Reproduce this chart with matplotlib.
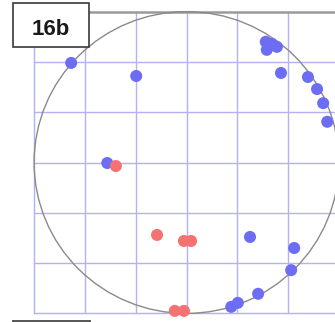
import matplotlib
matplotlib.use("Agg")
import matplotlib.pyplot as plt
from matplotlib.patches import Circle, Rectangle

# Panel label
panel_label = "16b"

# Blue group (x, y) in grid units
blue_x = [-2.27, -0.99, 1.56, 1.68, 1.58, 1.78, 1.86, 2.39, 2.57, 2.69, 2.77,
          -1.56, 1.25, 2.12, 2.06, 1.41, 1.01, 0.88]
blue_y = [1.98, 1.72, 2.40, 2.36, 2.24, 2.30, 1.78, 1.70, 1.46, 1.18, 0.81,
          -0.01, -1.48, -1.70, -2.14, -2.61, -2.79, -2.87]

# Red group (x, y) in grid units
red_x = [-1.39, -0.58, -0.05, 0.09, -0.23, -0.05]
red_y = [-0.07, -1.44, -1.56, -1.56, -2.95, -2.95]

grid_ticks = [-3, -2, -1, 0, 1, 2, 3]
radius = 3.0

fig = plt.figure(figsize=(3.35, 3.22), dpi=100)
ax = fig.add_axes([0, 0, 1, 1])
ax.set_xlim(-3.671, 2.923)
ax.set_ylim(-3.171, 3.231)
ax.axis("off")

grid_color = "#b2b2f4"
# vertical grid lines
for gx in grid_ticks:
    ax.plot([gx, gx], [-3, 3], color=grid_color, lw=1.0, zorder=1)
# horizontal grid lines
for gy in grid_ticks[:-1]:
    ax.plot([-3, 3.5], [gy, gy], color=grid_color, lw=1.0, zorder=1)
# top border line
ax.plot([-3, 3.5], [3, 3], color="#9a9a9a", lw=1.8, zorder=2)

# circle of radius 3
ax.add_patch(Circle((0, 0), radius, fill=False, edgecolor="#8a8a8a", lw=1.0, zorder=3))

ax.scatter(blue_x, blue_y, s=75, color="#6d6df3", edgecolors="none", zorder=4)
ax.scatter(red_x, red_y, s=75, color="#f47272", edgecolors="none", zorder=5)

# label box
px = lambda p: (p - 186.5) / 50.8
py = lambda p: (162.5 - p) / 50.3
ax.add_patch(Rectangle((px(13), py(47)), px(89) - px(13), py(3) - py(47),
                       facecolor="white", edgecolor="#3a3a3a", lw=1.2, zorder=6))
ax.text((px(13) + px(89)) / 2, py(34.5), panel_label,
        ha="center", va="baseline", fontsize=16, fontweight="bold",
        family="Liberation Sans", color="#1a1a1a", zorder=7)
# next panel's box, partly visible at the bottom
ax.add_patch(Rectangle((px(13), py(340)), px(90) - px(13), py(321) - py(340),
                       facecolor="white", edgecolor="#3a3a3a", lw=1.2, zorder=6,
                       clip_on=True))

fig.savefig("out.png", dpi=100)
